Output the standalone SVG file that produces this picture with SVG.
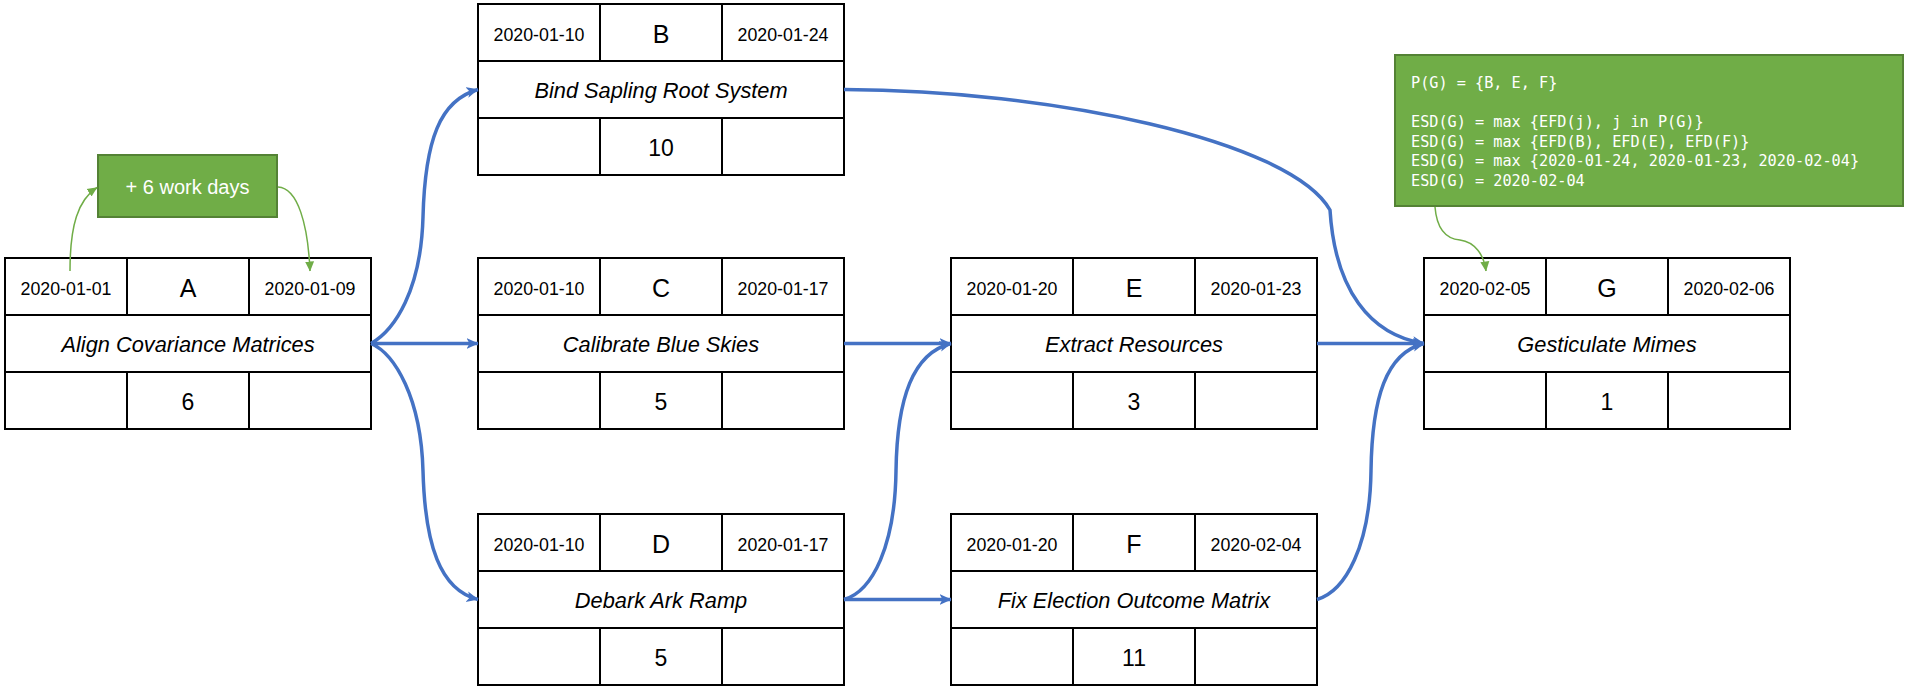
<svg xmlns="http://www.w3.org/2000/svg" width="1909" height="691" viewBox="0 0 1909 691">
<style>
.box{fill:#fff;stroke:#000;stroke-width:2}
.ln{stroke:#000;stroke-width:2}
.dt{font-family:"Liberation Sans",Arial,sans-serif;font-size:17.8px;text-anchor:middle;fill:#000}
.lt{font-family:"Liberation Sans",Arial,sans-serif;font-size:25px;text-anchor:middle;fill:#000}
.nm{font-family:"Liberation Sans",Arial,sans-serif;font-size:21.8px;font-style:italic;text-anchor:middle;fill:#000}
.du{font-family:"Liberation Sans",Arial,sans-serif;font-size:23px;text-anchor:middle;fill:#000}
.gbox{fill:#70AD47;stroke:#548235;stroke-width:2}
.gt{font-family:"Liberation Sans",Arial,sans-serif;font-size:20px;fill:#fff;text-anchor:middle}
.mono{font-family:"DejaVu Sans Mono","Liberation Mono",monospace;font-size:15.2px;fill:#fff}
.bc{fill:none;stroke:#4472C4;stroke-width:3.5;marker-end:url(#ab)}
.gc{fill:none;stroke:#70AD47;stroke-width:1.5;marker-end:url(#ag)}
</style>
<defs>
<marker id="ab" viewBox="0 0 12 12" refX="11.5" refY="6" markerWidth="12" markerHeight="12" markerUnits="userSpaceOnUse" orient="auto"><path d="M0,0.5 L12,6 L0,11.5 L3,6 z" fill="#4472C4"/></marker>
<marker id="ag" viewBox="0 0 10 10" refX="9.5" refY="5" markerWidth="10" markerHeight="10" markerUnits="userSpaceOnUse" orient="auto"><path d="M0,0.5 L10,5 L0,9.5 z" fill="#70AD47"/></marker>
</defs>
<rect width="1909" height="691" fill="#fff"/>

<g id="note-workdays">
<rect class="gbox" x="98" y="155" width="179" height="62"/>
<text class="gt" x="187.5" y="194">+ 6 work days</text>
</g>

<g id="note-esd">
<rect class="gbox" x="1395" y="55" width="508" height="151"/>
<text class="mono" x="1411" y="88" xml:space="preserve">P(G) = {B, E, F}</text>
<text class="mono" x="1411" y="127" xml:space="preserve">ESD(G) = max {EFD(j), j in P(G)}</text>
<text class="mono" x="1411" y="146.5" xml:space="preserve">ESD(G) = max {EFD(B), EFD(E), EFD(F)}</text>
<text class="mono" x="1411" y="166" xml:space="preserve">ESD(G) = max {2020-01-24, 2020-01-23, 2020-02-04}</text>
<text class="mono" x="1411" y="185.5" xml:space="preserve">ESD(G) = 2020-02-04</text>
</g>

<g id="node-A" transform="translate(5,258)">
<rect class="box" width="366" height="171"/>
<path class="ln" d="M0,57H366M0,114H366M122,0V57M244,0V57M122,114V171M244,114V171"/>
<text class="dt" x="61" y="37">2020-01-01</text>
<text class="lt" x="183" y="39">A</text>
<text class="dt" x="305" y="37">2020-01-09</text>
<text class="nm" x="183" y="93.5">Align Covariance Matrices</text>
<text class="du" x="183" y="152">6</text>
</g>

<g id="node-B" transform="translate(478,4)">
<rect class="box" width="366" height="171"/>
<path class="ln" d="M0,57H366M0,114H366M122,0V57M244,0V57M122,114V171M244,114V171"/>
<text class="dt" x="61" y="37">2020-01-10</text>
<text class="lt" x="183" y="39">B</text>
<text class="dt" x="305" y="37">2020-01-24</text>
<text class="nm" x="183" y="93.5">Bind Sapling Root System</text>
<text class="du" x="183" y="152">10</text>
</g>

<g id="node-C" transform="translate(478,258)">
<rect class="box" width="366" height="171"/>
<path class="ln" d="M0,57H366M0,114H366M122,0V57M244,0V57M122,114V171M244,114V171"/>
<text class="dt" x="61" y="37">2020-01-10</text>
<text class="lt" x="183" y="39">C</text>
<text class="dt" x="305" y="37">2020-01-17</text>
<text class="nm" x="183" y="93.5">Calibrate Blue Skies</text>
<text class="du" x="183" y="152">5</text>
</g>

<g id="node-D" transform="translate(478,514)">
<rect class="box" width="366" height="171"/>
<path class="ln" d="M0,57H366M0,114H366M122,0V57M244,0V57M122,114V171M244,114V171"/>
<text class="dt" x="61" y="37">2020-01-10</text>
<text class="lt" x="183" y="39">D</text>
<text class="dt" x="305" y="37">2020-01-17</text>
<text class="nm" x="183" y="93.5">Debark Ark Ramp</text>
<text class="du" x="183" y="152">5</text>
</g>

<g id="node-E" transform="translate(951,258)">
<rect class="box" width="366" height="171"/>
<path class="ln" d="M0,57H366M0,114H366M122,0V57M244,0V57M122,114V171M244,114V171"/>
<text class="dt" x="61" y="37">2020-01-20</text>
<text class="lt" x="183" y="39">E</text>
<text class="dt" x="305" y="37">2020-01-23</text>
<text class="nm" x="183" y="93.5">Extract Resources</text>
<text class="du" x="183" y="152">3</text>
</g>

<g id="node-F" transform="translate(951,514)">
<rect class="box" width="366" height="171"/>
<path class="ln" d="M0,57H366M0,114H366M122,0V57M244,0V57M122,114V171M244,114V171"/>
<text class="dt" x="61" y="37">2020-01-20</text>
<text class="lt" x="183" y="39">F</text>
<text class="dt" x="305" y="37">2020-02-04</text>
<text class="nm" x="183" y="93.5">Fix Election Outcome Matrix</text>
<text class="du" x="183" y="152">11</text>
</g>

<g id="node-G" transform="translate(1424,258)">
<rect class="box" width="366" height="171"/>
<path class="ln" d="M0,57H366M0,114H366M122,0V57M244,0V57M122,114V171M244,114V171"/>
<text class="dt" x="61" y="37">2020-02-05</text>
<text class="lt" x="183" y="39">G</text>
<text class="dt" x="305" y="37">2020-02-06</text>
<text class="nm" x="183" y="93.5">Gesticulate Mimes</text>
<text class="du" x="183" y="152">1</text>
</g>

<g id="connectors">
<path class="bc" d="M371,343.5 L478,343.5"/>
<path class="bc" d="M844,343.5 L951,343.5"/>
<path class="bc" d="M1317,343.5 L1424,343.5"/>
<path class="bc" d="M844,599.5 L951,599.5"/>
<path class="bc" d="M371,343.5 C395,330 421,290 423,217 C425,140 440,100 478,89.5"/>
<path class="bc" d="M371,343.5 C395,354 421,398 423,471 C425,545 440,590 478,599.5"/>
<path class="bc" d="M844,599.5 C873,591 895,545 896,471 C897,398 913,353 951,343.5"/>
<path class="bc" d="M1317,599.5 C1346,591 1370,545 1371,471 C1372,398 1386,353 1424,343.5"/>
<path class="bc" d="M844,89.5 C1050,90 1290,140 1330,210 C1335,290 1370,335 1424,343.5"/>
<path class="gc" d="M70,271 C70,225 78,200 97,187.5"/>
<path class="gc" d="M278,187 C298,188 308,225 310,271"/>
<path class="gc" d="M1435,207 C1437,232 1448,239 1460,240 C1475,242 1484,255 1486,271"/>
</g>
</svg>
